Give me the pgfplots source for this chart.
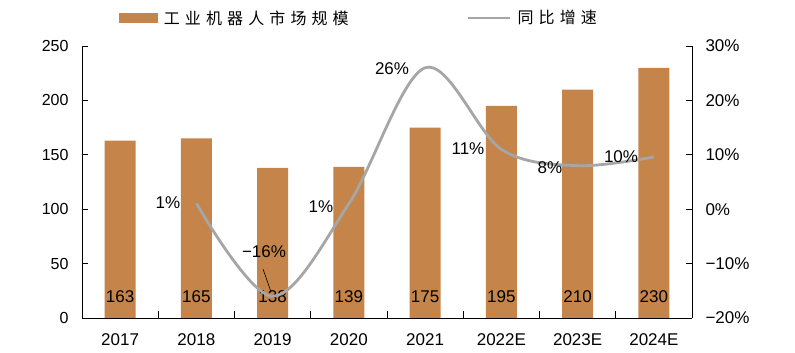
\documentclass[border=0pt]{standalone}
\usepackage{pgfplots}
\pgfplotsset{compat=1.18}
\usepackage{fontspec}
\setmainfont{Liberation Sans}
\newfontfamily\cjk[LetterSpace=32]{Noto Sans CJK SC}
\definecolor{barc}{RGB}{196,132,74}
\definecolor{linec}{RGB}{166,166,166}
\newcommand{\fs}{\fontsize{17}{20}\selectfont}
\begin{document}
\begin{tikzpicture}
\useasboundingbox (-82pt,-35pt) rectangle (713pt,318pt);
\begin{axis}[
  at={(0pt,0pt)}, anchor=south west,
  scale only axis, width=610pt, height=272pt,
  xmin=-0.5, xmax=7.5, ymin=0, ymax=250,
  axis x line*=bottom, axis y line*=left,
  axis line style={black, line width=0.9pt},
  xtick={0.5,1.5,...,6.5}, xticklabels={},
  extra x ticks={0,1,...,7},
  extra x tick labels={2017,2018,2019,2020,2021,2022E,2023E,2024E},
  extra x tick style={major tick length=0pt},
  ytick={0,50,...,250},
  tick align=inside, major tick length=6.5pt,
  tick style={black, line width=0.9pt},
  tick label style={font=\fs},
  yticklabel style={font=\fontsize{16}{19}\selectfont, xshift=-10pt},
  xticklabel style={yshift=-12pt},
  /pgf/number format/assume math mode=true,
  legend columns=2,
  legend style={draw=none, fill=none, inner sep=0pt, at={(axis description cs:0.06,1.103)}, anchor=west,
    font=\fontsize{16}{19}\selectfont,
    /tikz/every odd column/.append style={column sep=4pt},
    /tikz/every even column/.append style={column sep=116pt}},
  clip=false,
]
\addplot[ybar, bar width=31pt, fill=barc, draw=none,
  legend image code/.code={\fill[barc] (0pt,-5pt) rectangle (39pt,5pt);}]
  coordinates {(0,163) (1,165) (2,138) (3,139) (4,175) (5,195) (6,210) (7,230)};
\addlegendentry{\cjk 工业机器人市场规模}
\addlegendimage{legend image code/.code={\draw[linec, line width=2.8pt] (0pt,0pt) -- (42pt,0pt);}}
\addlegendentry{\cjk 同比增速}
\node[font=\fs] at (axis cs:0,20) {163};
\node[font=\fs] at (axis cs:1,20) {165};
\node[font=\fs] at (axis cs:2,20) {138};
\node[font=\fs] at (axis cs:3,20) {139};
\node[font=\fs] at (axis cs:4,20) {175};
\node[font=\fs] at (axis cs:5,20) {195};
\node[font=\fs] at (axis cs:6,20) {210};
\node[font=\fs] at (axis cs:7,20) {230};
\end{axis}
\begin{axis}[
  at={(0pt,0pt)}, anchor=south west,
  scale only axis, width=610pt, height=272pt,
  xmin=-0.5, xmax=7.5, ymin=-20, ymax=30,
  axis x line=none, axis y line*=right,
  axis line style={black, line width=0.9pt},
  ytick={-20,-10,...,30},
  yticklabels={−20\%,−10\%,0\%,10\%,20\%,30\%},
  tick align=inside, major tick length=6.5pt,
  tick style={black, line width=0.9pt},
  yticklabel style={font=\fs, xshift=10pt},
  clip=false,
]
\addplot[linec, line width=2.8pt, smooth, tension=0.55]
  coordinates {(1,1.1) (2,-16) (3,1) (4,26) (5,11) (6,8) (7,9.6)};
\node[font=\fs] at (axis cs:0.628,1.14) {1\%};
\node[font=\fs] at (axis cs:1.887,-7.87) {−16\%};
\draw[black, line width=0.6pt] (axis cs:1.874,-11.0) -- (axis cs:1.979,-15.2);
\node[font=\fs] at (axis cs:2.634,0.4) {1\%};
\node[font=\fs] at (axis cs:3.566,25.8) {26\%};
\node[font=\fs] at (axis cs:4.562,11.1) {11\%};
\node[font=\fs] at (axis cs:5.638,7.6) {8\%};
\node[font=\fs] at (axis cs:6.569,9.6) {10\%};
\end{axis}
\end{tikzpicture}
\end{document}
